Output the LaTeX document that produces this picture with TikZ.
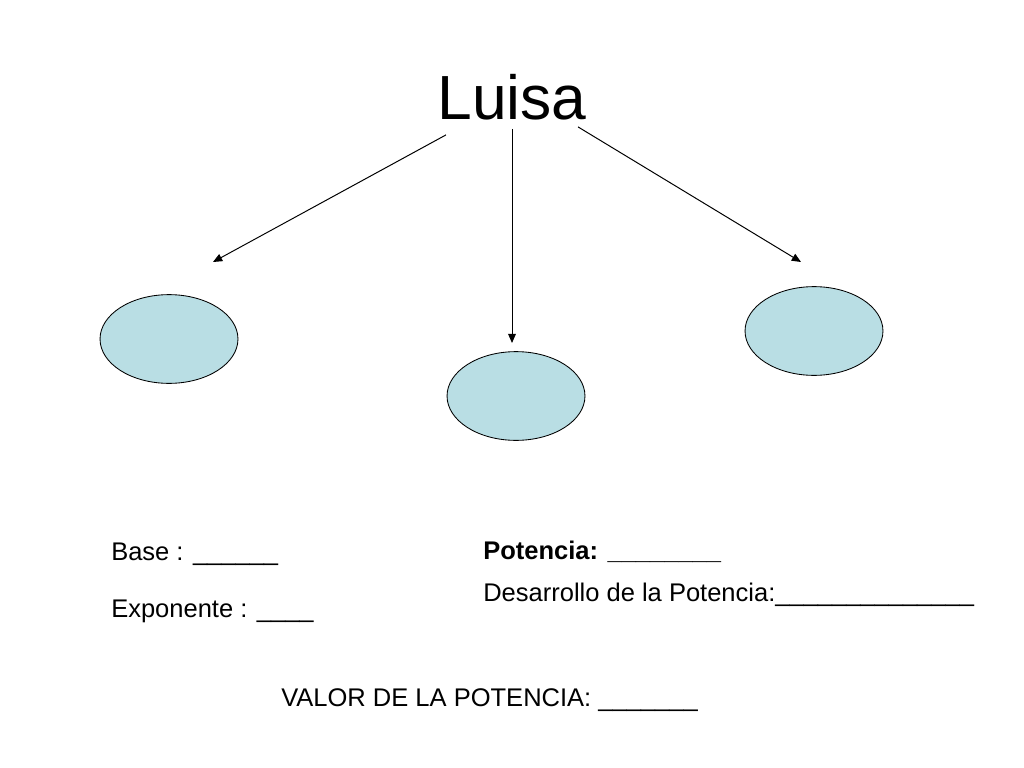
\documentclass[tikz,border=0pt]{standalone}
\usepackage{fontspec}
\setmainfont{Liberation Sans}
\usetikzlibrary{shapes.geometric,arrows.meta}

\definecolor{celeste}{RGB}{185,222,228}
\newcommand\raya[1]{\foreach \k in {1,...,#1}{\symbol{95}}}

\tikzset{
  globo/.style={ellipse, draw=black, fill=celeste, line width=0.6pt,
    minimum width=3.42cm, minimum height=2.2cm, inner sep=0pt},
  flecha/.style={line width=0.7pt, -{Triangle[length=6.5pt,width=5.5pt]}},
  texto/.style={anchor=base west, inner sep=0pt, font=\fontsize{18}{21}\selectfont}
}

\begin{document}
\begin{tikzpicture}[x=0.0248cm, y=-0.0248cm]
  % page frame
  \useasboundingbox (0,0) rectangle (1024,768);

  % title
  \node[anchor=base, inner sep=0pt, font=\fontsize{44}{50}\selectfont] (luisa) at (512,120) {Luisa};

  % the three ellipses
  \node[globo] (izq) at (169,339) {};
  \node[globo] (centro) at (516,396) {};
  \node[globo] (der) at (814,331) {};

  % arrow ends
  \coordinate (puntaIzq) at (213,262);
  \coordinate (puntaCentro) at (512,343);
  \coordinate (puntaDer) at (801,262);

  \draw[flecha] ([shift={(-66,14)}]luisa.south) -- (puntaIzq);
  \draw[flecha] ([shift={(0,8)}]luisa.south) -- (puntaCentro);
  \draw[flecha] ([shift={(66,6)}]luisa.south) -- (puntaDer);

  % texts below
  \node[texto] (base) at (111,560) {Base : \raya{6}};
  \node[texto] (exponente) at (111,617) {Exponente : \raya{4}};
  \node[texto] (potencia) at (483,559) {\bfseries Potencia: \raya{8}};
  \node[texto] (desarrollo) at (483,601) {Desarrollo de la Potencia:\raya{14}};
  \node[texto] (valor) at (281,706) {VALOR DE LA POTENCIA: \raya{7}};
\end{tikzpicture}
\end{document}
